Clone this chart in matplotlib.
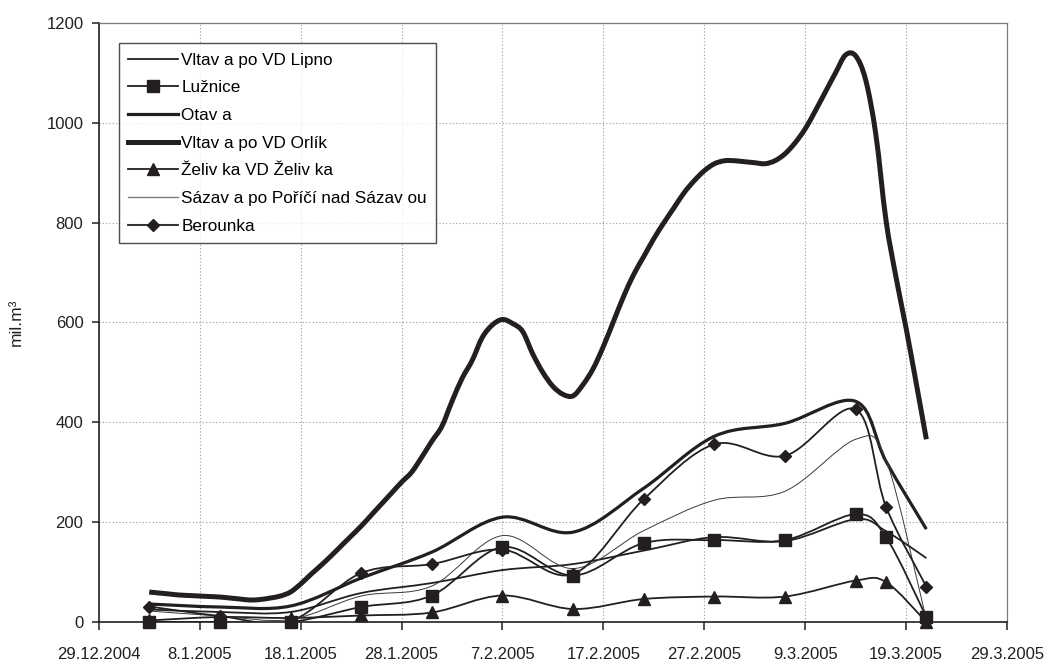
import matplotlib
matplotlib.use("Agg")
import matplotlib.pyplot as plt
import matplotlib.dates as mdates
import matplotlib.ticker as mticker
from matplotlib.path import Path
from matplotlib.patches import PathPatch
from matplotlib.lines import Line2D
import numpy as np
import pandas as pd
from datetime import datetime, timedelta

plt.rcParams['font.family'] = ['Liberation Sans', 'DejaVu Sans']

# weekly observation dates
weekly_dates = ['2005-01-03', '2005-01-10', '2005-01-17', '2005-01-24', '2005-01-31',
                '2005-02-07', '2005-02-14', '2005-02-21', '2005-02-28', '2005-03-07',
                '2005-03-14', '2005-03-17', '2005-03-21']

# daily dates for Vltava below Orlík
orlik_dates = pd.date_range('2005-01-03', '2005-03-21', freq='D')

lipno = [25, 20, 20, 58, 78, 104, 116, 143, 170, 162, 206, 182, 128]
luznice = [0, 0, 0, 30, 53, 150, 93, 158, 164, 164, 216, 170, 10]
otava = [36, 30, 32, 88, 140, 210, 180, 268, 372, 398, 442, 322, 186]
zelivka = [3, 10, 8, 13, 19, 53, 26, 46, 51, 51, 83, 80, 0]
sazava = [22, 12, 5, 52, 72, 173, 107, 183, 244, 262, 366, 325, 5]
berounka = [31, 12, 2, 98, 116, 145, 96, 246, 356, 333, 426, 231, 71]

orlik = [60, 58, 56, 54, 53, 52, 51, 50, 48, 46, 44, 45, 48, 52, 60, 76, 95, 113,
         132, 152, 172, 192, 214, 236, 258, 280, 300, 330, 362, 392, 442, 488, 524,
         570, 595, 606, 598, 582, 537, 500, 472, 456, 453, 476, 508, 552, 602, 652,
         696, 732, 768, 800, 830, 860, 884, 904, 918, 924, 924, 922, 920, 918, 924,
         938, 960, 988, 1024, 1062, 1100, 1136, 1134, 1085, 976, 805, 690, 588, 478, 366]

labels = ['Vltav a po VD Lipno', 'Lužnice', 'Otav a', 'Vltav a po VD Orlík',
          'Želiv ka VD Želiv ka', 'Sázav a po Poříčí nad Sázav ou', 'Berounka']

y_ticks = [0, 200, 400, 600, 800, 1000, 1200]
x_start = '2004-12-29'
x_end = '2005-03-29'

INK = '#231f20'


def smooth_path(xs, ys):
    """Cubic Bezier path through the points (Catmull-Rom style smoothing)."""
    pts = np.column_stack([xs, ys]).astype(float)
    n = len(pts)
    verts = [pts[0]]
    codes = [Path.MOVETO]
    for i in range(n - 1):
        p_prev = pts[i - 1] if i > 0 else pts[i]
        p_next = pts[i + 2] if i + 2 < n else pts[i + 1]
        c1 = pts[i] + (pts[i + 1] - p_prev) / 6.0
        c2 = pts[i + 1] - (p_next - pts[i]) / 6.0
        verts += [c1, c2, pts[i + 1]]
        codes += [Path.CURVE4] * 3
    return Path(verts, codes)


def draw_series(ax, dates, values, lw, color=INK, marker=None, ms=8, z=3):
    xs = mdates.date2num(pd.to_datetime(dates).to_pydatetime())
    patch = PathPatch(smooth_path(xs, values), facecolor='none', edgecolor=color,
                      lw=lw, zorder=z, capstyle='butt', joinstyle='round')
    ax.add_patch(patch)
    if marker:
        ax.plot(pd.to_datetime(dates), values, linestyle='none', marker=marker,
                ms=ms, color=color, markeredgecolor=color, zorder=z + 0.5,
                clip_on=False)


fig = plt.figure(figsize=(10.46, 6.6), dpi=100)
ax = fig.add_axes([0.0944, 0.0576, 0.8684, 0.9076])

draw_series(ax, weekly_dates, lipno, 1.3)
draw_series(ax, weekly_dates, luznice, 1.3, marker='s', ms=8)
draw_series(ax, weekly_dates, otava, 2.3)
draw_series(ax, orlik_dates, orlik, 3.6, z=4)
draw_series(ax, weekly_dates, zelivka, 1.3, marker='^', ms=8.5)
draw_series(ax, weekly_dates, sazava, 0.7, color='#3a3a3a')
draw_series(ax, weekly_dates, berounka, 1.3, marker='D', ms=6.5)

ax.set_xlim(pd.Timestamp(x_start), pd.Timestamp(x_end))
ax.set_ylim(y_ticks[0], y_ticks[-1])
ax.set_yticks(y_ticks)

start = datetime.strptime(x_start, '%Y-%m-%d')
ax.set_xticks([start + timedelta(days=10 * k) for k in range(10)])
ax.xaxis.set_major_formatter(mticker.FuncFormatter(
    lambda v, pos: '{d.day}.{d.month}.{d.year}'.format(d=mdates.num2date(v))))

ax.grid(True, color='#9a9a9a', linestyle=(0, (1, 2)), linewidth=0.8)
ax.set_axisbelow(True)

for side in ('left', 'bottom'):
    ax.spines[side].set_color(INK)
    ax.spines[side].set_linewidth(1.2)
for side in ('top', 'right'):
    ax.spines[side].set_color('#7a7a7a')
    ax.spines[side].set_linewidth(0.9)

ax.tick_params(axis='both', labelsize=12, colors=INK, direction='out')
ax.tick_params(axis='x', length=6, width=1.1, pad=12)
ax.tick_params(axis='y', length=5, width=1.1, pad=6)

ax.set_ylabel('mil.m³', fontsize=12.5, color=INK, labelpad=16)

handles = [
    Line2D([], [], color=INK, lw=1.3),
    Line2D([], [], color=INK, lw=1.3, marker='s', ms=8),
    Line2D([], [], color=INK, lw=2.3),
    Line2D([], [], color=INK, lw=3.6),
    Line2D([], [], color=INK, lw=1.3, marker='^', ms=8.5),
    Line2D([], [], color='#7a7a7a', lw=1.0),
    Line2D([], [], color=INK, lw=1.3, marker='D', ms=6.5),
]
leg = ax.legend(handles, labels, loc='upper left', bbox_to_anchor=(0.0223, 0.966),
                borderaxespad=0, fontsize=12.3, frameon=True, fancybox=False,
                edgecolor=INK, handlelength=2.9, handletextpad=0.2,
                labelspacing=0.74, borderpad=0.55)
leg.get_frame().set_linewidth(1.0)
leg.set_zorder(10)

fig.savefig('out.png', dpi=100)
